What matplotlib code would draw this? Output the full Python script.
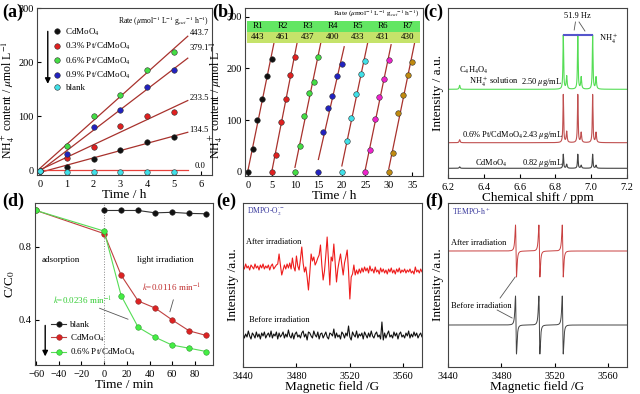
import numpy as np
import matplotlib
matplotlib.use('Agg')
import matplotlib.pyplot as plt
from matplotlib.patches import Rectangle

plt.rcParams['font.family'] = 'Liberation Serif'
plt.rcParams['mathtext.fontset'] = 'stix'
plt.rcParams['xtick.direction'] = 'in'
plt.rcParams['ytick.direction'] = 'in'
plt.rcParams['xtick.labelsize'] = 7.5
plt.rcParams['ytick.labelsize'] = 7.5
plt.rcParams['axes.labelsize'] = 9.5
plt.rcParams['axes.linewidth'] = 0.8
plt.rcParams['axes.edgecolor'] = '#444444'
plt.rcParams['xtick.major.size'] = 3
plt.rcParams['ytick.major.size'] = 3
plt.rcParams['ytick.major.pad'] = 2.5

# ---- (a) NH4+ production vs time
time_a = [0, 1, 2, 3, 4, 5]
nh4_cd = [0, 6, 22, 38, 53, 63]
nh4_pt03 = [0, 23, 43, 82, 100, 109]
nh4_pt06 = [0, 45, 100, 140, 186, 218]
nh4_pt09 = [0, 31, 80, 111, 155, 185]
nh4_blank = [0, -2, -2, -2, -2, -2]
labels_a = ['CdMoO$_4$', '0.3% Pt/CdMoO$_4$', '0.6% Pt/CdMoO$_4$', '0.9% Pt/CdMoO$_4$', 'blank']
rates_a = ['443.7', '379.1', '233.5', '134.5', '0.0']

# ---- (b) cycling runs
run_time = [0, 1, 2, 3, 4, 5]
run_nh4 = [
    [0, 45, 100, 140, 185, 219],
    [0, 33, 97, 140, 187, 222],
    [0, 50, 109, 152, 174, 223],
    [0, 77, 123, 146, 185, 208],
    [0, 59, 104, 150, 190, 215],
    [0, 42, 103, 145, 180, 216],
    [0, 37, 113, 148, 188, 212],
]
run_names = ['R1', 'R2', 'R3', 'R4', 'R5', 'R6', 'R7']
run_rates = ['443', '461', '437', '400', '433', '431', '430']

# ---- (c) 1H NMR peaks (shift ppm, height above baseline)
nmr_shift = [6.265, 6.844, 6.863, 6.925, 6.944, 7.008, 7.027]
nmr_width = [0.003, 0.0022, 0.003, 0.0022, 0.003, 0.0022, 0.003]
nmr_green = [4, 54, 13, 54, 12, 54, 12]
nmr_red = [3, 48, 11, 48, 10, 48, 10]
nmr_black = [1.5, 14, 4, 14, 3, 14, 3]
base_c = [88.7, 35.3, 9.7]

# ---- (d) RhB degradation
time_d = [-60, 0, 15, 30, 45, 60, 75, 90]
cc_cd = [1.0, 0.873, 0.645, 0.504, 0.465, 0.40, 0.34, 0.315]
cc_pt = [1.0, 0.887, 0.533, 0.36, 0.305, 0.262, 0.245, 0.227]
time_blank = [0, 15, 30, 45, 60, 75, 90]
cc_blank = [1.0, 1.0, 1.0, 0.987, 0.99, 0.984, 0.982]

# ---- (e) DMPO EPR, 1 G steps from 3440 G
epr_after = [2, -2, 3, -1, 1, -3, 2, 0, -2, 3, -1, 1, -3, 2, -1, 3, -2, 1, -1, 2, -3, 1, 3, -2, 0, 2,
             3, 13, 2, -8, -3, 2, -2, 3, -1, 4,
             -2, 9, 0, -4, 11, 1, -3, 8, 20, 4,
             -5, 0, -10, -23, -6, 13, 6, 10, 2, 5,
             9, 12, 22, 2, -13, -4, 12, 30, 6, -18,
             10, 6, 23, 4, -15, -2, 6, 13, 2, -8,
             4, 10, 17, -4, -32, -10, -7, 2, -8, -3,
             -7, -2, -6, -1, -5, 0, -4, -1, -6, 1,
             -4, -2, -6, 0, -5, -3, -7, -1, -5, -2,
             -6, -3, -7, -2, -5, -1, -6, -3, -7, -2,
             -5, -1, -6, -3, -5, -2, -6, -3, -5, -2,
             -6, -4, -7, 0, -5, -3, -6, -2, -5, -3]
epr_before = [2, -3, 1, -2, 4, -1, -4, 2, 0, -3, 3, -2, 1, -4, 2, -1, 3, -3, 0, 2, -2, 4, -3, 1, -1, 3,
              -4, 2, -2, 0, 3, -3, 1, -2, 5, -1, -3, 2, -4, 1, 3, -2, 0, -3, 2, 4, -2, 1, -5, 3,
              2, -1, -3, 4, 0, -2, 3, -4, 1, 2, -3, 0, 3, -2, -4, 2, 1, -1, 6, -3, 2, -2, 0, -4,
              3, 1, -3, 2, -1, 9, -2, -5, 3, 0, -2, 4, -3, 1, -1, 2, -4, 3, 0, -3, 2, -2, 4, -1,
              -3, 1, 3, -2, 0, -4, 13, -5, 2, -3, 1, 4, -2, 0, -3, 3, -1, 2, -4, 1, 3, -2, 0, -3,
              2, -1, 4, -3, 1, -2, 3, -1, 2, -3, 0, 2, -2, 3]

# ---- (f) TEMPO EPR lines
tempo_field = [3490.9, 3508.4, 3525.9]
tempo_after = [26, 26, 26]
tempo_before = [29, 29, 29]

fig = plt.figure(figsize=(6.4, 3.94), dpi=100)


def px_rect(l, r, t, b):
    return [l / 640, (394 - b) / 394, (r - l) / 640, (b - t) / 394]


ball = dict(marker='o', markersize=4, linestyle='none', markeredgewidth=0.4)
rate_title = r'Rate ($\mu$mol$^{-1}$ L$^{-1}$ g$_{cat}$$^{-1}$ h$^{-1}$)'
nh4_label = r'NH$_4^+$ content / $\mu$mol L$^{-1}$'

# (a)
ax = fig.add_axes(px_rect(37, 212, 8, 175))
cols_a = ['#111111', '#e02020', '#44dd44', '#2222c0', '#40e0e8']
series_a = [nh4_cd, nh4_pt03, nh4_pt06, nh4_pt09, nh4_blank]
tt = np.array([0, 5.5])
for y in [nh4_cd, nh4_pt03, nh4_pt06, nh4_pt09]:
    k, b = np.polyfit(time_a, y, 1)
    ax.plot(tt, k * tt + b, color='#a8322d', lw=0.9)
ax.plot(tt, [np.mean(nh4_blank) + 3, np.mean(nh4_blank) + 3], color='#e8413c', lw=0.9)
for y, c, lab in zip(series_a, cols_a, labels_a):
    ax.plot(time_a, y, color=c, markeredgecolor='#333333', label=lab, **ball)
for s, yy in zip(rates_a, [254, 226, 134, 75, 9]):
    ax.text(5.56 if s != '0.0' else 5.75, yy, s, fontsize=6.2, va='center')
ax.text(0.985, 0.96, rate_title, fontsize=5.5, ha='right', va='top', transform=ax.transAxes)
ax.legend(loc='upper left', bbox_to_anchor=(0.075, 0.91), frameon=False, fontsize=6.5,
          handlelength=0.8, handletextpad=0.5, labelspacing=0.35, borderaxespad=0)
ax.annotate('', xy=(0.3, 155), xytext=(0.3, 262),
            arrowprops=dict(arrowstyle='-|>', color='black', lw=1.0, mutation_scale=8))
ax.set_xlim(-0.1, 6.4)
ax.set_ylim(-8, 300)
ax.set_xticks([0, 1, 2, 3, 4, 5, 6])
ax.set_yticks([0, 100, 200, 300])
ax.set_xlabel('Time / h', labelpad=0)
ax.set_ylabel(nh4_label, fontsize=8.5)
ax.yaxis.set_label_coords(-0.115, 0.45)

# (b)
ax = fig.add_axes(px_rect(245, 423, 8, 176))
cols_b = ['#111111', '#e02020', '#44dd44', '#2222c0', '#40e0e8', '#ee22cc', '#c08a10']
for i, y in enumerate(run_nh4):
    t = np.array(run_time) + 5 * i
    k, b = np.polyfit(t, y, 1)
    tl = np.array([5 * i, 5 * i + 5.5])
    ax.plot(tl, k * tl + b, color='#a8322d', lw=0.9)
    ax.plot(t, y, color=cols_b[i], markeredgecolor='#333333', **ball)
x0, w = 0.012, 0.973
ax.add_patch(Rectangle((x0, 0.858), w, 0.066, transform=ax.transAxes, facecolor='#63e663',
                       edgecolor='none', zorder=3))
ax.add_patch(Rectangle((x0, 0.792), w, 0.066, transform=ax.transAxes, facecolor='#c5e36a',
                       edgecolor='none', zorder=3))
for i in range(7):
    xc = 0.073 + i * 0.1405
    ax.text(xc, 0.891, run_names[i], fontsize=6.5, ha='center', va='center', transform=ax.transAxes, zorder=4)
    ax.text(xc, 0.825, run_rates[i], fontsize=6.5, ha='center', va='center', transform=ax.transAxes, zorder=4)
ax.text(0.98, 0.995, rate_title, fontsize=5.2, ha='right', va='top', transform=ax.transAxes)
ax.set_xlim(-0.65, 37.3)
ax.set_ylim(-8, 317)
ax.set_xticks(range(0, 40, 5))
ax.set_yticks([0, 100, 200, 300])
ax.set_xlabel('Time / h', labelpad=0)
ax.set_ylabel(nh4_label, fontsize=8.5)
ax.yaxis.set_label_coords(-0.115, 0.45)

# (c)
ax = fig.add_axes(px_rect(448, 627, 8, 178))
ppm = np.linspace(6.2, 7.2, 4001)
for hts, base, c in zip([nmr_black, nmr_red, nmr_green], base_c[::-1], ['#444444', '#c05050', '#55dd55']):
    sig = np.zeros_like(ppm) + base
    for x0p, wd, h in zip(nmr_shift, nmr_width, hts):
        sig += h / (1 + ((ppm - x0p) / wd) ** 2)
    ax.plot(ppm, sig, color=c, lw=0.8)
ax.plot([6.848, 6.921], [143.5, 143.5], color='#5555cc', lw=1.5)
ax.plot([6.929, 7.004], [143.5, 143.5], color='#5555cc', lw=1.5)
ax.plot([6.912, 6.905], [156, 148], color='#555555', lw=0.6)
ax.plot([6.932, 6.965], [156, 147], color='#555555', lw=0.6)
ax.text(6.92, 158, '51.9 Hz', fontsize=6, ha='center', va='bottom')
ax.text(7.045, 139, r'NH$_4^+$', fontsize=6, va='center')
ax.text(6.26, 108, r'C$_4$H$_4$O$_4$', fontsize=6, va='center')
ax.text(6.32, 96, r'NH$_4^+$ solution', fontsize=6, va='center')
ax.text(6.61, 96, r'2.50 $\mu$g/mL', fontsize=6, va='center')
ax.text(6.28, 43, r'0.6% Pt/CdMoO$_4$', fontsize=6, va='center')
ax.text(6.615, 43, r'2.43 $\mu$g/mL', fontsize=6, va='center')
ax.text(6.35, 15, r'CdMoO$_4$', fontsize=6, va='center')
ax.text(6.615, 15, r'0.82 $\mu$g/mL', fontsize=6, va='center')
ax.set_xlim(6.2, 7.2)
ax.set_ylim(0, 170)
ax.set_xticks([6.2, 6.4, 6.6, 6.8, 7.0, 7.2])
ax.set_yticks([])
ax.set_xlabel('Chemical shift / ppm', labelpad=0)
ax.set_ylabel('Intensity / a.u.', labelpad=3)

# (d)
ax = fig.add_axes(px_rect(35, 213, 203, 365))
ax.axvline(0, color='#888888', lw=0.7, ls=':')
ax.plot(time_blank, cc_blank, color='#333333', lw=0.8, marker='o', markersize=4,
        markerfacecolor='#111111', markeredgecolor='#333333', markeredgewidth=0.4, label='blank')
ax.plot(time_d, cc_cd, color='#c04040', lw=0.8, marker='o', markersize=4,
        markerfacecolor='#dd2222', markeredgecolor='#883333', markeredgewidth=0.4, label='CdMoO$_4$')
ax.plot(time_d, cc_pt, color='#55dd55', lw=0.8, marker='o', markersize=4,
        markerfacecolor='#44ee44', markeredgecolor='#339933', markeredgewidth=0.4, label='0.6% Pt/CdMoO$_4$')
ax.text(-55, 0.73, 'adsorption', fontsize=6.5, va='center')
ax.text(29, 0.73, 'light irradiation', fontsize=6.5, va='center')
ax.text(33, 0.573, r'$k$=0.0116 min$^{-1}$', fontsize=6.5, color='#c03030', va='center')
ax.text(-45, 0.503, r'$k$=0.0236 min$^{-1}$', fontsize=6.5, color='#33cc33', va='center')
ax.plot([58, 61], [0.445, 0.51], color='#555555', lw=0.6)
ax.plot([-4, 21], [0.464, 0.404], color='#555555', lw=0.6)
ax.legend(loc='lower left', bbox_to_anchor=(0.07, 0.02), frameon=False, fontsize=6.5,
          handlelength=1.7, handletextpad=0.4, labelspacing=0.35, borderaxespad=0)
ax.annotate('', xy=(-52, 0.185), xytext=(-52, 0.385),
            arrowprops=dict(arrowstyle='-|>', color='black', lw=1.0, mutation_scale=8))
ax.set_xlim(-61, 96)
ax.set_ylim(0.153, 1.041)
ax.set_xticks(range(-60, 100, 20))
ax.set_yticks([0.4, 0.8])
ax.set_xlabel('Time / min', labelpad=0)
ax.set_ylabel('C/C$_0$', labelpad=1)

# (e)
ax = fig.add_axes(px_rect(243, 422, 203, 367))
field_a = 3440 + np.arange(len(epr_after))
field_b = np.linspace(3440, 3575, len(epr_before))
ax.plot(field_a, np.array(epr_after) + 100, color='#ee1c1c', lw=0.8)
ax.plot(field_b, np.array(epr_before) + 32, color='#111111', lw=0.8)
ax.text(0.02, 0.985, r'DMPO-O$_2^{\cdot-}$', fontsize=5.5, color='#333399', ha='left', va='top',
        transform=ax.transAxes)
ax.text(3442.5, 125, 'After irradiation', fontsize=6, va='center')
ax.text(3444.5, 47, 'Before irradiation', fontsize=6, va='center')
ax.set_xlim(3440, 3574)
ax.set_ylim(0, 164)
ax.set_xticks([3440, 3480, 3520, 3560])
ax.set_yticks([])
ax.set_xlabel('Magnetic field /G', labelpad=0)
ax.set_ylabel('Intensity /a.u.', labelpad=3)

# (f)
ax = fig.add_axes(px_rect(448, 627, 203, 367))
field = np.linspace(3440, 3575, 5401)
wid = 0.65
for amps, base, c in zip([tempo_after, tempo_before], [116, 42], ['#c84040', '#444444']):
    sig = np.zeros_like(field) + base
    for f0, a in zip(tempo_field, amps):
        u = (field - f0) / wid
        sig += -a * u / (1 + u ** 2) ** 2 / 0.3248
    ax.plot(field, sig, color=c, lw=0.7)
ax.plot([3490.3, 3479], [90, 69], color='#555555', lw=0.6)
ax.plot([3476.8, 3488], [57, 49], color='#555555', lw=0.6)
ax.text(0.02, 0.985, r'TEMPO-h$^+$', fontsize=5.5, color='#333399', ha='left', va='top',
        transform=ax.transAxes)
ax.text(3442.3, 124, 'After irradiation', fontsize=6, va='center')
ax.text(3442.3, 61, 'Before irradiation', fontsize=6, va='center')
ax.set_xlim(3440, 3574)
ax.set_ylim(0, 164)
ax.set_xticks([3440, 3480, 3520, 3560])
ax.set_yticks([])
ax.set_xlabel('Magnetic field /G', labelpad=0)
ax.set_ylabel('Intensity /a.u.', labelpad=3)

# panel letters
for s, x, y in [('(a)', 2, 4), ('(b)', 212, 4), ('(c)', 423, 4),
                ('(d)', 2, 193), ('(e)', 216, 193), ('(f)', 425, 193)]:
    fig.text(x / 640, 1 - y / 394, s, fontsize=13, fontweight='bold', ha='left', va='top')

fig.savefig('out.png', dpi=100)
